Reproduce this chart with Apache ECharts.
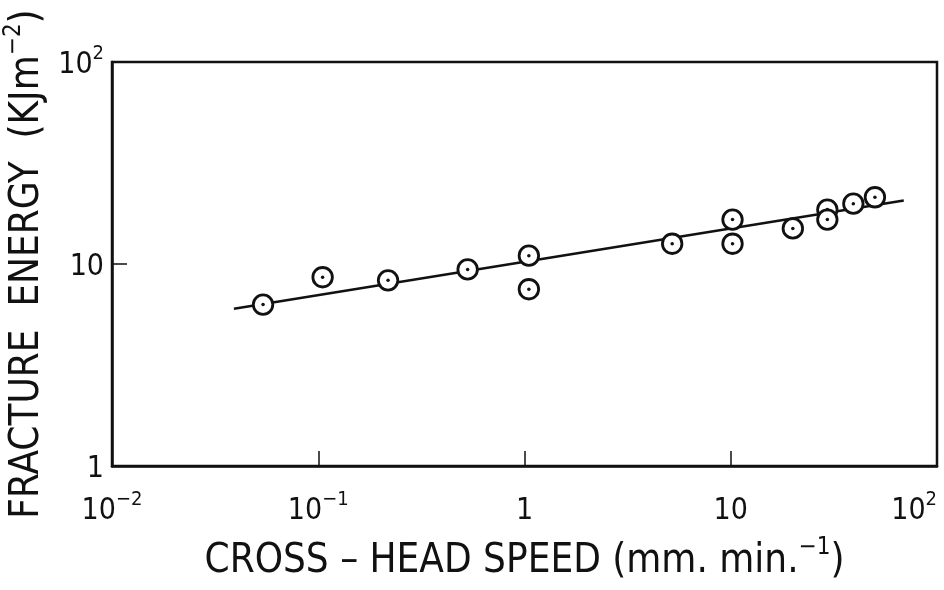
<!DOCTYPE html>
<html>
<head>
<meta charset="utf-8">
<script src="https://cdn.jsdelivr.net/npm/echarts@6/dist/echarts.min.js"></script>
<style>
  html, body { margin: 0; padding: 0; background: #fff; }
  #chart { width: 944px; height: 590px; }
</style>
</head>
<body>
<div id="chart"></div>
<script>
// measured points (cross-head speed mm/min, fracture energy kJ/m2)
var speed  = [0.054, 0.105, 0.218, 0.53, 1.05, 1.05, 5.2, 10.2, 10.2, 20, 29.4, 29.4, 39.3, 50];
var energy = [6.3, 8.6, 8.3, 9.4, 11.0, 7.5, 12.6, 16.6, 12.6, 15.0, 18.6, 16.6, 19.9, 21.4];

// fitted line end points
var fitSpeed  = [0.039, 69];
var fitEnergy = [6.0, 20.6];

// tick labels, indexed by decade exponent
var xTickExp  = [-2, -1, 0, 1, 2];
var xTickText = ['{n|10}{s|\u22122}', '{n|10}{s|\u22121}', '{n|1}', '{n|10}', '{n|10}{s|2}'];
var yTickExp  = [0, 1, 2];
var yTickText = ['{n|1}', '{n|10}', '{n|10}{s|2}'];

var font = 'DejaVu Sans Condensed';
var ink = '#111';

var points = speed.map(function (s, i) { return [s, energy[i]]; });
var fit = fitSpeed.map(function (s, i) { return [s, fitEnergy[i]]; });

function tickText(exps, texts, v) {
    var e = Math.round(Math.log10(v));
    var i = exps.indexOf(e);
    return i < 0 ? '' : texts[i];
}

var tickRich = {
    n: { fontFamily: font, fontSize: 30, color: ink, lineHeight: 36, verticalAlign: 'bottom' },
    s: { fontFamily: font, fontSize: 20, color: ink, lineHeight: 20, verticalAlign: 'top' }
};
var nameRich = {
    a: { fontFamily: font, fontSize: 40, color: ink, lineHeight: 46, verticalAlign: 'bottom' },
    s: { fontFamily: font, fontSize: 24, color: ink, lineHeight: 24, verticalAlign: 'top' }
};

var chart = echarts.init(document.getElementById('chart'));

var option = {
    animation: false,
    backgroundColor: '#fff',
    grid: {
        left: 112, right: 7, top: 62, bottom: 124,
        containLabel: false, outerBoundsMode: 'none',
        show: true, borderColor: ink, borderWidth: 2.5
    },
    xAxis: {
        type: 'log', logBase: 10, min: 0.01, max: 100,
        name: '{a|CROSS \u2013 HEAD SPEED (mm. min.}{s|\u22121}{a|)}',
        nameLocation: 'middle', nameGap: 70,
        nameTextStyle: { rich: nameRich },
        axisLine: { lineStyle: { color: ink, width: 2.5 } },
        axisTick: { inside: true, length: 15, lineStyle: { color: ink, width: 1.5 } },
        axisLabel: {
            margin: 24, rich: tickRich, alignMaxLabel: 'right',
            formatter: function (v) { return tickText(xTickExp, xTickText, v); }
        },
        splitLine: { show: false },
        minorTick: { show: false }
    },
    yAxis: {
        type: 'log', logBase: 10, min: 1, max: 100,
        name: '{a|FRACTURE  ENERGY  (KJm}{s|\u22122}{a|)}',
        nameLocation: 'middle', nameGap: 62,
        nameTextStyle: { rich: nameRich },
        axisLine: { lineStyle: { color: ink, width: 2.5 } },
        axisTick: { inside: true, length: 15, lineStyle: { color: ink, width: 1.5 } },
        axisLabel: {
            margin: 8, rich: tickRich,
            formatter: function (v) { return tickText(yTickExp, yTickText, v); }
        },
        splitLine: { show: false },
        minorTick: { show: false }
    },
    series: [
        {
            name: 'fit', type: 'line', data: fit,
            symbol: 'none', silent: true,
            lineStyle: { color: ink, width: 2.5 },
            z: 2
        },
        {
            name: 'ring', type: 'scatter', data: points,
            symbol: 'circle', symbolSize: 19.5,
            itemStyle: { color: '#fff', borderColor: ink, borderWidth: 2.8, opacity: 1 },
            z: 3
        },
        {
            name: 'dot', type: 'scatter', data: points,
            symbol: 'circle', symbolSize: 3.5,
            itemStyle: { color: ink, opacity: 1 },
            z: 4
        }
    ]
};

chart.setOption(option);
</script>
</body>
</html>
